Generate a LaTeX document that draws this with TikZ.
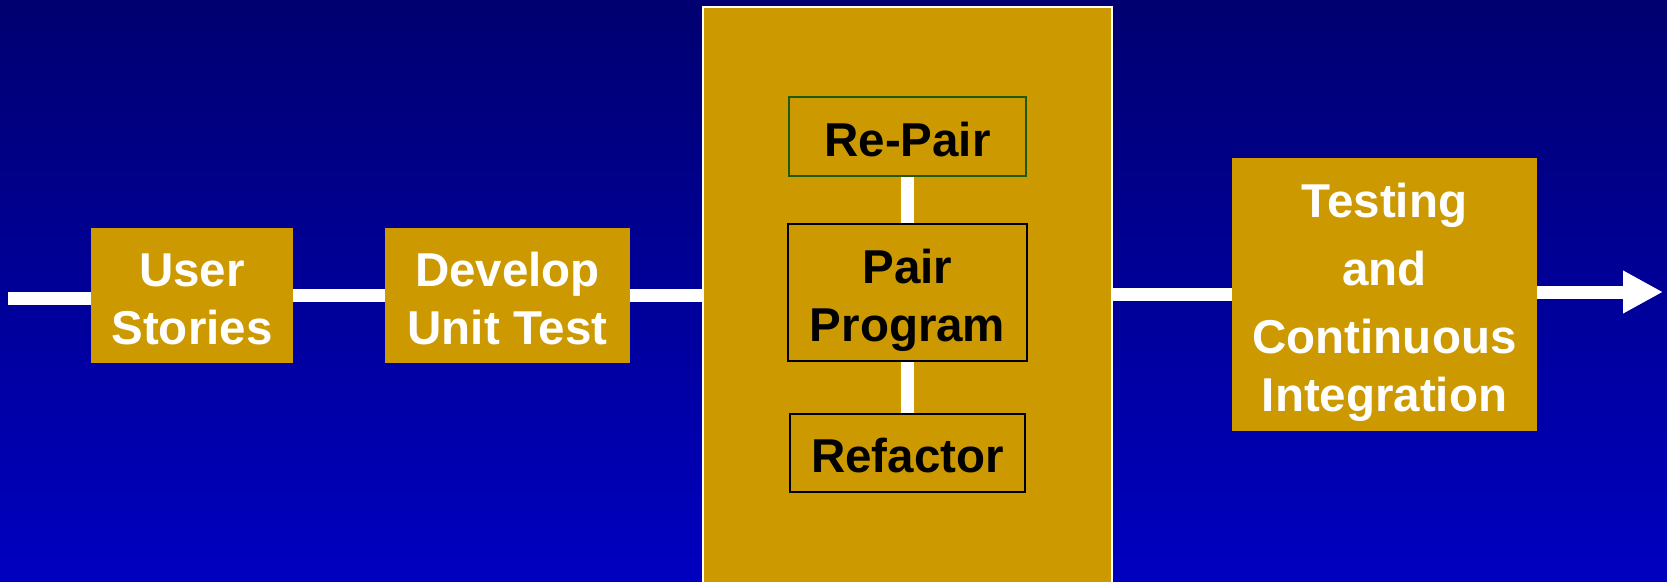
\documentclass[tikz,border=0pt]{standalone}
\usepackage{fontspec}
\setmainfont{Liberation Sans}
\usetikzlibrary{arrows.meta}
\definecolor{gold}{RGB}{204,153,0}
\definecolor{navytop}{RGB}{0,0,112}
\definecolor{navybot}{RGB}{0,0,192}
\definecolor{leaf}{RGB}{30,90,10}
% taller first line, so the text block sits a little lower in its box
\newcommand\firstline{\rule{0pt}{39pt}}
\begin{document}
\begin{tikzpicture}[x=1pt,y=-1pt,
  stage/.style={fill=gold, draw=none, inner sep=0pt, text=white, align=center,
    text depth=0pt, font=\bfseries\fontsize{47.5}{58}\selectfont},
  sub/.style={stage, draw=black, line width=2pt, text=black},
  flow/.style={draw=white, line width=13pt}]
\useasboundingbox (0,0) rectangle (1667,581);
\begin{scope}
\clip (0,0) rectangle (1667,581);
% background
\shade[top color=navytop, bottom color=navybot] (0,0) rectangle (1667,581);

% start and end of the main flow
\coordinate (s) at (8,298);
\coordinate (e) at (1663,292);

% stages
\node[stage, minimum width=202pt, minimum height=135pt] (us) at (192,295.5) {\firstline User\\Stories};
\node[stage, minimum width=245pt, minimum height=135pt] (dut) at (507.5,295.5) {\firstline Develop\\Unit Test};
\node[stage, draw=white, line width=2.5pt, minimum width=409pt, minimum height=600pt] (core) at (907.5,307) {};
\node[stage, minimum width=305pt, minimum height=273pt] (tci) at (1384.5,294.5)
  {\firstline Testing\\[10pt]and\\[10pt]Continuous\\Integration};

% inner loop
\node[sub, draw=leaf, minimum width=237pt, minimum height=79pt] (rp) at (907.5,136.5) {\firstline Re-Pair};
\node[sub, minimum width=239pt, minimum height=137pt] (pp) at (907.5,292.5) {\firstline Pair\\Program};
\node[sub, minimum width=235pt, minimum height=78pt] (rf) at (907.5,453) {\firstline Refactor};

\draw[flow] (rp.south) -- (pp.north);
\draw[flow] (pp.south) -- (rf.north);
\end{scope}

% main flow segments between the stages
\draw[flow] (s) -- (us.west |- s);
\draw[flow] (us.east) -- (dut.west);
\draw[flow] (dut.east) -- (dut.east -| core.west);
\draw[flow] (tci.west -| core.east) -- (tci.west);
\draw[flow, -{Triangle[length=40pt,width=40pt]}] (tci.east |- e) -- (e);
\end{tikzpicture}
\end{document}
